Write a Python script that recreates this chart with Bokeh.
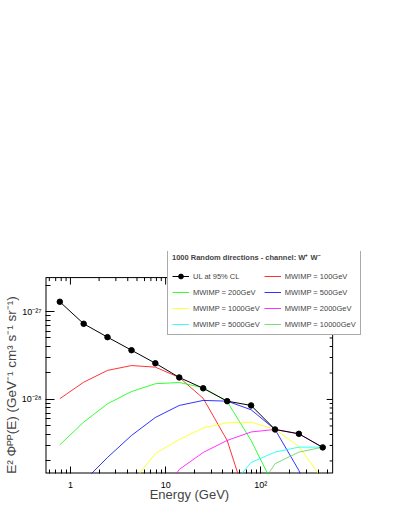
import math
from bokeh.plotting import figure
from bokeh.models import FixedTicker, CustomJSTickFormatter, Legend, LegendItem, Range1d
from bokeh.embed import file_html
from bokeh.resources import INLINE

NAN = float("nan")

# ---- data ----
ENERGY = [0.773, 1.377, 2.45, 4.38, 7.8, 13.9, 24.8, 44.3, 79.0, 141.0, 251.0, 447.0]
UL = [1.29e-27, 7.25e-28, 5.11e-28, 3.63e-28, 2.58e-28, 1.78e-28,
      1.34e-28, 9.57e-29, 8.55e-29, 4.56e-29, 4.07e-29, 2.85e-29]
M100 = [1.02e-28, 1.57e-28, 2.14e-28, 2.43e-28, 2.33e-28, 1.78e-28,
        1.03e-28, 3.42e-29, 4.9e-30, NAN, NAN, NAN]
M200 = [3.05e-29, 5.52e-29, 8.93e-29, 1.23e-28, 1.51e-28, 1.56e-28,
        1.36e-28, 9.48e-29, 3.42e-29, 9.7e-30, NAN, NAN]
M500 = [4.8e-30, 1.17e-29, 2.19e-29, 3.9e-29, 6.24e-29, 8.55e-29,
        9.75e-29, 9.57e-29, 7.64e-29, 4.56e-29, 1.56e-29, 3.2e-30]
M1000 = [NAN, NAN, 3.2e-30, 1.11e-29, 2.43e-29, 3.51e-29,
         4.74e-29, 5.43e-29, 5.52e-29, 4.56e-29, 2.92e-29, 1.23e-29]
M2000 = [NAN, NAN, NAN, NAN, 6.2e-30, 1.6e-29,
         2.5e-29, 3.42e-29, 4.27e-29, 4.56e-29, 4.07e-29, 2.85e-29]
M5000 = [NAN, NAN, NAN, NAN, NAN, NAN,
         NAN, 9.2e-30, 1.92e-29, 2.52e-29, 2.87e-29, 2.87e-29]
M10000 = [NAN, NAN, NAN, NAN, NAN, NAN,
          NAN, NAN, 7.1e-30, 1.86e-29, 2.52e-29, 2.87e-29]

MODELS = [
    ("MWIMP = 100GeV", M100, "#ff0000"),
    ("MWIMP = 200GeV", M200, "#00ff00"),
    ("MWIMP = 500GeV", M500, "#0000ff"),
    ("MWIMP = 1000GeV", M1000, "#ffff00"),
    ("MWIMP = 2000GeV", M2000, "#ff00ff"),
    ("MWIMP = 5000GeV", M5000, "#00ffff"),
    ("MWIMP = 10000GeV", M10000, "#59d454"),
]
UL_LABEL = "UL at 95% CL"
LEGEND_TITLE = "1000 Random directions - channel: W\u207a W\u207b"
X_TITLE = "Energy (GeV)"
Y_TITLE = "E\u00b2 \u03a6\u1d3e\u1d3e(E) (GeV\u207b\u00b9 cm\u00b3 s\u207b\u00b9 sr\u207b\u00b9)"
X_TICKS = [1, 10, 100]
Y_TICKS = [1e-29, 1e-28, 1e-27]
# axis box of the plot (the drawing area extends a little beyond it for the legend)
BOX_X = (0.547, 568.0)
BOX_Y = (1.44e-29, 2.43e-27)
VIEW_X = (0.547, 1385.0)
VIEW_Y = (1.44e-29, 4.81e-27)

FONT = "Liberation Sans"

p = figure(width=399, height=516, x_axis_type="log", y_axis_type="log",
           x_range=Range1d(*VIEW_X), y_range=Range1d(*VIEW_Y),
           output_backend="svg", toolbar_location=None,
           min_border_left=44, min_border_right=30,
           min_border_top=251, min_border_bottom=43)
p.xgrid.visible = False
p.ygrid.visible = False
p.outline_line_color = None
p.background_fill_color = "white"

fmt_code = """
const e = Math.round(Math.log10(tick));
if (e === 0) return "1";
if (e === 1) return "10";
const m = {"-":"\\u207b","0":"\\u2070","1":"\\u00b9","2":"\\u00b2","3":"\\u00b3",
           "4":"\\u2074","5":"\\u2075","6":"\\u2076","7":"\\u2077","8":"\\u2078","9":"\\u2079"};
return "10" + String(e).split("").map(c => m[c]).join("");
"""

x_minor = [k * 10.0 ** d for d in range(-1, 3) for k in range(2, 10)
           if BOX_X[0] <= k * 10.0 ** d <= BOX_X[1]]
y_minor = [k * 10.0 ** d for d in (-30, -29, -28, -27) for k in range(2, 10)
           if BOX_Y[0] <= k * 10.0 ** d <= BOX_Y[1]]


def style_axis(ax, major_in, minor_in):
    ax.major_tick_in = major_in
    ax.major_tick_out = 0
    ax.minor_tick_in = minor_in
    ax.minor_tick_out = 0
    ax.axis_line_color = None
    ax.major_tick_line_color = "black"
    ax.minor_tick_line_color = "black"
    ax.major_label_text_font = FONT
    ax.major_label_text_font_size = "9px"
    ax.major_label_text_color = "black"
    ax.axis_label_text_font = FONT
    ax.axis_label_text_font_style = "normal"
    ax.formatter = CustomJSTickFormatter(code=fmt_code)


xa = p.xaxis[0]
xa.ticker = FixedTicker(ticks=X_TICKS, minor_ticks=x_minor)
style_axis(xa, 7, 4)
xa.major_label_standoff = 6
xa.axis_label = X_TITLE + " " * 10
xa.axis_label_text_font_size = "13px"
xa.axis_label_standoff = -6

ya = p.yaxis[0]
ya.ticker = FixedTicker(ticks=Y_TICKS, minor_ticks=y_minor)
style_axis(ya, 9, 5)
ya.major_label_standoff = 4
ya.major_label_orientation = "horizontal"
ya.axis_label = Y_TITLE + " " * 12
ya.axis_label_text_font_size = "13.5px"
ya.axis_label_standoff = 0

# frame of the axis box
p.segment(x0=[BOX_X[0], BOX_X[0]], y0=[BOX_Y[0], BOX_Y[0]],
          x1=[BOX_X[0], BOX_X[1]], y1=[BOX_Y[1], BOX_Y[0]],
          line_color="black", line_width=2)
p.segment(x0=[BOX_X[0], BOX_X[1]], y0=[BOX_Y[1], BOX_Y[0]],
          x1=[BOX_X[1], BOX_X[1]], y1=[BOX_Y[1], BOX_Y[1]],
          line_color="black", line_width=1)
# mirrored ticks on the top and right sides of the box
p.ray(x=X_TICKS, y=[BOX_Y[1]] * len(X_TICKS), length=7, length_units="screen",
      angle=-math.pi / 2, line_color="black", line_width=1)
p.ray(x=x_minor, y=[BOX_Y[1]] * len(x_minor), length=3.5, length_units="screen",
      angle=-math.pi / 2, line_color="black", line_width=1)
p.ray(x=[BOX_X[1]] * len(Y_TICKS), y=Y_TICKS, length=6, length_units="screen",
      angle=math.pi, line_color="black", line_width=1)
p.ray(x=[BOX_X[1]] * len(y_minor), y=y_minor, length=3, length_units="screen",
      angle=math.pi, line_color="black", line_width=1)

model_items = []
for label, vals, color in MODELS:
    r = p.line(ENERGY, vals, line_color=color, line_width=1, line_alpha=0.8)
    model_items.append(LegendItem(label=label, renderers=[r]))
ul_line = p.line(ENERGY, UL, line_color="black", line_width=1)
ul_pts = p.scatter(ENERGY, UL, size=5.5, fill_color="black", line_color="black")

items = [LegendItem(label=UL_LABEL, renderers=[ul_line, ul_pts])] + model_items

legend = Legend(items=items, location=(122, 138), orientation="horizontal", ncols=2,
                title=LEGEND_TITLE, title_text_font=FONT, title_text_font_size="7.5px",
                title_text_font_style="bold", title_standoff=8,
                label_text_font=FONT, label_text_font_size="7.5px",
                glyph_width=17, glyph_height=12, label_height=12,
                label_standoff=4, spacing=4, padding=4, margin=0,
                border_line_color="#555555", border_line_width=1,
                background_fill_color="white", background_fill_alpha=1.0)
p.add_layout(legend, "center")

open("out.html", "w").write(file_html(p, INLINE))
